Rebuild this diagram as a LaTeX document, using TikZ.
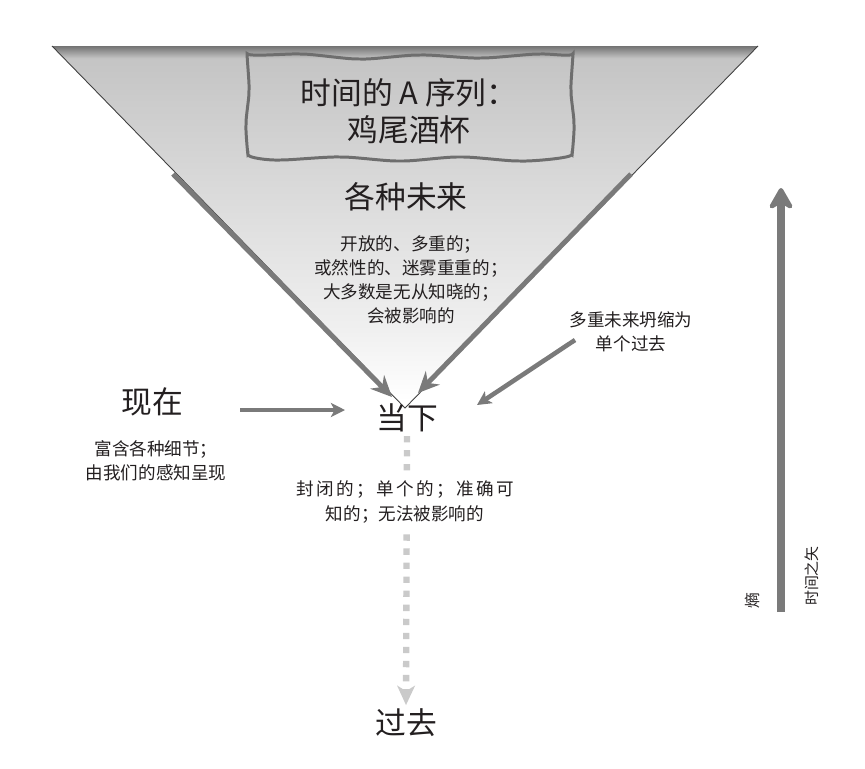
\documentclass[tikz,border=0pt]{standalone}
\usepackage{fontspec}
\setmainfont{Noto Sans CJK SC}
\usetikzlibrary{arrows.meta}
\definecolor{ink}{HTML}{231F20}
\definecolor{arrowgray}{HTML}{7A7A7A}
\definecolor{dotgray}{HTML}{CACACA}
\definecolor{boxgray}{HTML}{6E6E6E}
\pgfdeclareverticalshading{cupshade}{100bp}{color(0bp)=(white); color(26bp)=(white); color(36bp)=(black!6); color(54bp)=(black!14); color(67bp)=(black!20); color(73.3bp)=(black!23); color(75bp)=(black!55); color(100bp)=(black!55)}

\begin{document}
\begin{tikzpicture}[x=0.02cm, y=-0.02cm, every node/.style={text=ink, inner sep=0pt}, big/.style={font=\fontsize{17.5}{21}\selectfont, align=center}, small/.style={font=\fontsize{10}{13.7}\selectfont, align=center}, fat/.style={draw=arrowgray, line width=2.8pt, -{Stealth[length=12pt, width=11pt, inset=4pt]}}, slim/.style={draw=arrowgray, line width=2.6pt, -{Stealth[length=8pt, width=8pt, inset=2pt]}}]
	\useasboundingbox (0,0) rectangle (865,768);
	\shade[shading=cupshade] (52,46) -- (758,46) -- (405,408) -- cycle;
	\draw[black!75, line width=0.5pt] (52,46) -- (405,408) -- (758,46);
	\draw[boxgray, line width=1.7pt, rounded corners=2pt] plot[smooth, tension=0.45] coordinates {(247,57) (300,54) (360,59) (420,55) (480,58) (540,54) (573,57)} -- plot[smooth, tension=0.45] coordinates {(573,57) (571,90) (574,125) (572,158)} -- plot[smooth, tension=0.45] coordinates {(572,158) (520,161) (460,157) (400,161) (340,157) (280,160) (248,158)} -- plot[smooth, tension=0.45] coordinates {(248,158) (246,125) (249,90) (247,57)} -- cycle;
	\node[big] (title) at (409,111) {时间的 A 序列：\\鸡尾酒杯};
	\node[big] (futures) at (406,197) {各种未来};
	\node[small] (futuredesc) at (411,280) {开放的、多重的；\\或然性的、迷雾重重的；\\大多数是无从知晓的；\\会被影响的};
	\node[big] (present) at (152,402) {现在};
	\node[small] (presentdesc) at (156,461) {富含各种细节；\\由我们的感知呈现};
	\node[big, inner sep=2pt] (now) at (407,418) {当下};
	\node[big, inner sep=2pt] (past) at (406,723) {过去};
	\node[small] (collapse) at (631,332) {多重未来坍缩为\\单个过去};
	\draw[dotgray, line width=3.6pt, dash pattern=on 3.6pt off 4.4pt, -{Stealth[length=11pt, width=10pt, inset=3pt]}] (now.south) -- (past.north);
	\node[small, fill=white, inner sep=5pt] (nowdesc) at (405,502) {{\addfontfeature{LetterSpace=14}封闭的；单个的；准确可}\\知的；无法被影响的};
	\coordinate (lstart) at (173,174); \coordinate (ltip) at (392,397);
	\coordinate (rstart) at (631,174); \coordinate (rtip) at (418,393);
	\coordinate (pstart) at (240,410); \coordinate (ptip) at (345,410);
	\coordinate (cstart) at (575,340); \coordinate (ctip) at (477,405);
	\coordinate (foot) at (781,612); \coordinate (head) at (781,188);
	\foreach \a/\b in {lstart/ltip, rstart/rtip} {\draw[fat] (\a) -- (\b);}
	\foreach \a/\b in {pstart/ptip, cstart/ctip} {\draw[slim] (\a) -- (\b);}
	\draw[arrowgray, line width=4pt, -{Stealth[length=15pt, width=17pt, inset=5pt, round]}] (foot) -- (head);
	\node[rotate=90, font=\fontsize{9}{11}\selectfont] (entropy) at (752,601) {熵};
	\node[rotate=90, font=\fontsize{8.5}{10}\selectfont] (arrowname) at (812,576) {时间之矢};
\end{tikzpicture}
\end{document}
